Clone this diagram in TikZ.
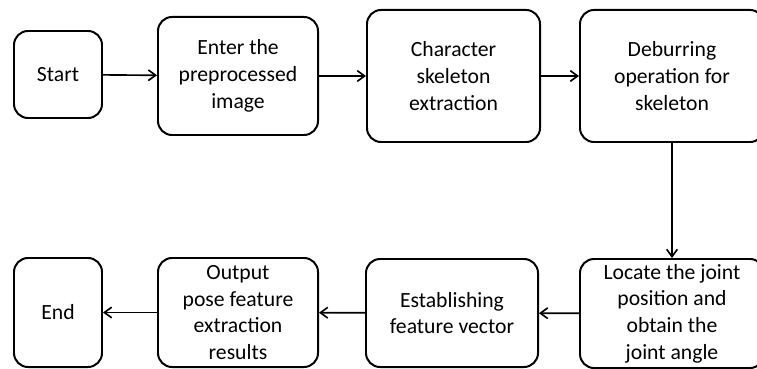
\documentclass[tikz,border=0pt]{standalone}
\usepackage{fontspec}
\setmainfont{Carlito}
\usepackage{tikz}
\usetikzlibrary{arrows.meta,positioning}
\tikzset{
  arr/.style={-{Straight Barb[length=2.2mm,width=3.2mm]}, line width=1.4pt, draw=black},
  stepbox/.style={rounded corners=0.42cm, draw=black, fill=white, line width=1.7pt, align=center, inner sep=0pt, font=\fontsize{18.5}{22.8}\selectfont}
}
\begin{document}
\begin{tikzpicture}[x=0.03cm,y=-0.03cm]
  \clip (0,0) rectangle (757,369);
  \node[stepbox, minimum width=2.64cm, minimum height=2.61cm] (start) at (58,74.5) {Start};
  \node[stepbox, minimum width=4.8cm, minimum height=3.54cm] (enter) at (238,76) {Enter the\\preprocessed\\image};
  \node[stepbox, minimum width=5.19cm, minimum height=3.96cm] (skel) at (453.5,76) {Character\\skeleton\\extraction};
  \node[stepbox, minimum width=5.52cm, minimum height=3.96cm] (deburr) at (672,76) {Deburring\\operation for\\skeleton};
  \node[stepbox, minimum width=5.52cm, minimum height=3.27cm] (joint) at (672,313.5) {Locate the joint\\position and\\obtain the\\joint angle};
  \node[stepbox, minimum width=5.16cm, minimum height=3.24cm] (vector) at (452,313) {Establishing\\feature vector};
  \node[stepbox, minimum width=4.8cm, minimum height=3.27cm] (output) at (238,312.5) {Output\\pose feature\\extraction\\results};
  \node[stepbox, minimum width=2.64cm, minimum height=3.27cm] (end) at (58,312.5) {End};
  \foreach \a/\b in {start/enter,enter/skel,skel/deburr,deburr/joint,joint/vector,vector/output,output/end}{\draw[arr] (\a) -- (\b);}
\end{tikzpicture}
\end{document}
